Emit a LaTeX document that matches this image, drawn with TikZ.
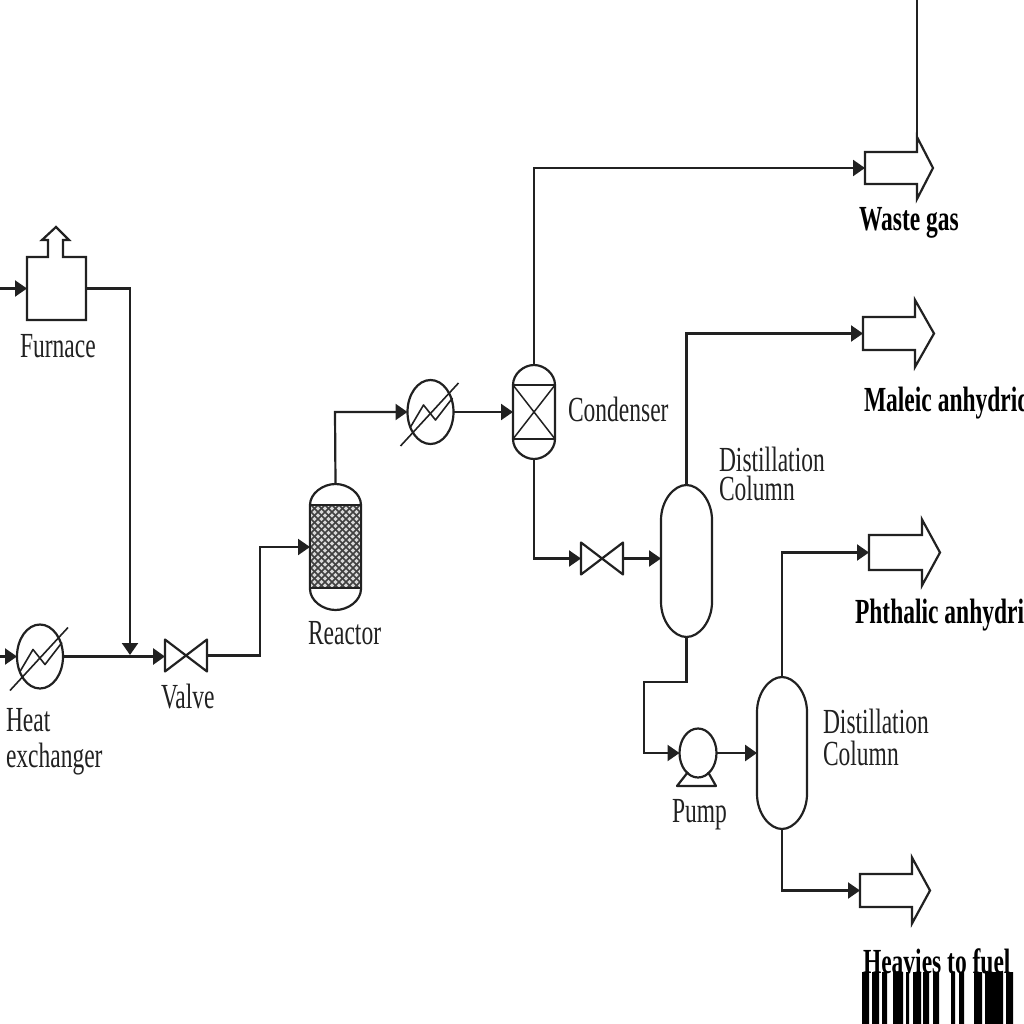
\documentclass[tikz,border=0pt]{standalone}
\usepackage{fontspec}
\setmainfont{Liberation Serif}
\usetikzlibrary{arrows.meta,shapes.geometric,calc}
\definecolor{ink}{gray}{0.13}
\newcommand{\stretched}[1]{\scalebox{1}[1.5]{#1}}
% Dished vessel outline around a rectangular node: name, half width, cap height
\newcommand{\vesselpath}[3]{%
  \draw[equip,fill=white]
    ([yshift=-#3pt]#1.north west)
    .. controls ([yshift=-0.45*#3pt]#1.north west) and ([xshift=0.5*#2pt]#1.north west) .. (#1.north)
    .. controls ([xshift=-0.5*#2pt]#1.north east) and ([yshift=-0.45*#3pt]#1.north east) .. ([yshift=-#3pt]#1.north east)
    -- ([yshift=#3pt]#1.south east)
    .. controls ([yshift=0.45*#3pt]#1.south east) and ([xshift=-0.5*#2pt]#1.south east) .. (#1.south)
    .. controls ([xshift=0.5*#2pt]#1.south west) and ([yshift=0.45*#3pt]#1.south west) .. ([yshift=#3pt]#1.south west)
    -- cycle;}
% Bow-tie valve symbol
\newcommand{\valvepath}[1]{%
  \draw[equip] (#1.north west) -- (#1.south east) -- (#1.north east) -- (#1.south west) -- cycle;}
% Block arrow for a product stream: name, left x, centre y, shoulder x, tip x, half body, half head
\newcommand{\productarrow}[7]{%
  \coordinate (#1) at (#2,#3);
  \draw[equip,line join=miter] (#2,#3-#6) -- (#4,#3-#6) -- (#4,#3-#7) -- (#5,#3) -- (#4,#3+#7) -- (#4,#3+#6) -- (#2,#3+#6) -- cycle;}
% Heat exchanger: slash and zigzag over an elliptical shell
\newcommand{\exchangermarks}[1]{%
  \draw[equip,line width=1.6pt] ($(#1.center)+(-30,34)$) -- ($(#1.center)+(28,-29)$);
  \draw[equip,line width=1.6pt] ($(#1.center)+(-20,15)$) -- ($(#1.center)+(-7,-7)$) -- ($(#1.center)+(5,8)$) -- ($(#1.center)+(22,-14)$);}
\tikzset{
  x=1pt,y=-1pt,
  equip/.style={draw=ink,line width=2.2pt,line join=round},
  flow/.style={draw=ink,line width=2.2pt,line join=miter,-{Triangle[length=12pt,width=16pt]}},
  shell/.style={ellipse,draw=ink,line width=2.2pt,inner sep=0pt,outer sep=0pt,minimum width=46pt,minimum height=64pt},
  holder/.style={rectangle,inner sep=0pt,outer sep=0pt},
  tag/.style={anchor=base west,inner sep=0pt,outer sep=0pt,text=ink,font=\fontsize{23.5}{23.5}\selectfont},
  product/.style={anchor=base west,inner sep=0pt,outer sep=0pt,text=black,font=\fontsize{23.5}{23.5}\selectfont\bfseries}
}
\begin{document}
\begin{tikzpicture}
\useasboundingbox (0,0) rectangle (1024,1024);
\clip (0,0) rectangle (1024,1024);

% Equipment placeholders
\node[holder,minimum width=59pt,minimum height=63pt] (furnace) at (56.5,288.5) {};
\node[shell] (hxa) at (40,656.5) {};
\node[holder,minimum width=42pt,minimum height=32pt] (valvea) at (186,655.5) {};
\node[holder,minimum width=51pt,minimum height=126pt] (reactor) at (335.5,547) {};
\node[shell] (hxb) at (430.5,412) {};
\node[holder,minimum width=42pt,minimum height=94pt] (condenser) at (534,412) {};
\node[holder,minimum width=42pt,minimum height=32pt] (valveb) at (602,558.5) {};
\node[holder,minimum width=51pt,minimum height=152pt] (cola) at (686.5,561) {};
\node[holder,minimum width=50pt,minimum height=152pt] (colb) at (782,753) {};
\node[ellipse,draw=ink,line width=2.2pt,inner sep=0pt,outer sep=0pt,minimum width=37pt,minimum height=49pt] (pump) at (698,753) {};

% Furnace with its exhaust stack
\draw[equip,line join=miter] (27,257) -- (48,257) -- (48,240) -- (42,240) -- (56,227) -- (69,240) -- (63,240) -- (63,257) -- (86,257) -- (86,320) -- (27,320) -- cycle;

% Vessels and inline items
\exchangermarks{hxa}
\exchangermarks{hxb}
\valvepath{valvea}
\valvepath{valveb}
\vesselpath{reactor}{25.5}{21}
\vesselpath{condenser}{21}{20}
\vesselpath{cola}{25.5}{35}
\vesselpath{colb}{25}{35}

% Catalyst bed
\begin{scope}
  \clip (310,505) rectangle (361,588);
  \fill[gray!30] (310,505) rectangle (361,588);
  \foreach \k in {-90,-83,...,60} {
    \draw[black!75,line width=1.5pt] (310+\k,505) -- (310+\k+83,588);
    \draw[black!75,line width=1.5pt] (361-\k,505) -- (361-\k-83,588);
  }
\end{scope}
\draw[equip] (310,505) rectangle (361,588);

% Condenser packing
\draw[equip] (513,385) -- (555,385) (513,439) -- (555,439);
\draw[equip,line width=1.5pt] (513,385) -- (555,439) (555,385) -- (513,439);

% Pump base
\draw[equip] (688,772) -- (677,786) -- (716,786) -- (708,772);

% Product arrows
\productarrow{wasteport}{865}{168}{917}{933}{16}{31}
\productarrow{maleicport}{863}{333.5}{915}{934}{16.5}{33.5}
\productarrow{phthalicport}{869}{552.5}{922}{940}{17.5}{33}
\productarrow{heavyport}{860}{890.5}{912}{930}{16.5}{33}

% Free line ends
\coordinate (feedfurnace) at (0,288.5);
\coordinate (feedhx) at (0,656.5);
\coordinate (ventline) at (917,0);
\coordinate (venthead) at (917,137);
\coordinate (junction) at (130,655);
\coordinate (colainlet) at (661,558.5);

% Process lines
\draw[flow] (feedfurnace) -- (furnace.west);
\draw[flow] (feedhx) -- (hxa.west);
\draw[flow] (furnace.east) -- (130,288.5) -- (junction);
\draw[flow,line width=3pt] (hxa.east) -- (valvea.west |- hxa.east);
\draw[flow] (valvea.east) -- (260,655.5) -- (260,547) -- (reactor.west);
\draw[flow] (reactor.north) -- (335,412) -- (hxb.west);
\draw[flow] (hxb.east) -- (condenser.west);
\draw[flow] (condenser.north) -- (534,168) -- (wasteport);
\draw[draw=ink,line width=2.2pt] (ventline) -- (venthead);
\draw[flow] (condenser.south) -- (534,558.5) -- (valveb.west);
\draw[flow] (valveb.east) -- (colainlet);
\draw[flow] (cola.north) -- (686.5,333.5) -- (maleicport);
\draw[flow] (cola.south) -- (686.5,682) -- (644,682) -- (644,753) -- (pump.west);
\draw[flow,line width=2.8pt] (pump.east) -- (colb.west);
\draw[flow] (colb.north) -- (782,552.5) -- (phthalicport);
\draw[flow] (colb.south) -- (782,890.5) -- (heavyport);

% Equipment labels
\node[tag] (lfurnace) at (20,357) {\stretched{Furnace}};
\node[tag] (lheat) at (6,731) {\stretched{Heat}};
\node[tag] (lexch) at (6,767) {\stretched{exchanger}};
\node[tag] (lvalve) at (161,708) {\stretched{Valve}};
\node[tag] (lreactor) at (308,644) {\stretched{Reactor}};
\node[tag] (lcond) at (568,421) {\stretched{Condenser}};
\node[tag] (ldista) at (719,471) {\stretched{Distillation}};
\node[tag] (lcola) at (719,500) {\stretched{Column}};
\node[tag] (ldistb) at (823,733) {\stretched{Distillation}};
\node[tag] (lcolb) at (823,765) {\stretched{Column}};
\node[tag] (lpump) at (672,822) {\stretched{Pump}};

% Product labels
\node[product] (lwaste) at (859,230) {\stretched{Waste gas}};
\node[product] (lmaleic) at (864,411) {\stretched{Maleic anhydrid}};
\node[product] (lphth) at (855,623) {\stretched{Phthalic anhydri}};
\node[product] (lheavy) at (863,973) {\stretched{Heavies to fuel}};

% Barcode strip
\fill[black] (862,972) rectangle (869,1024) (872,972) rectangle (879,1024)
  (882,972) rectangle (887,1024) (893,972) rectangle (903,1024)
  (906,972) rectangle (909,1024) (913,972) rectangle (921,1024)
  (923,972) rectangle (929,1024) (933,972) rectangle (939,1024)
  (951,972) rectangle (955,1024) (959,972) rectangle (964,1024)
  (974,972) rectangle (982,1024) (985,972) rectangle (1003,1024)
  (1006,972) rectangle (1013,1024);
\end{tikzpicture}
\end{document}
